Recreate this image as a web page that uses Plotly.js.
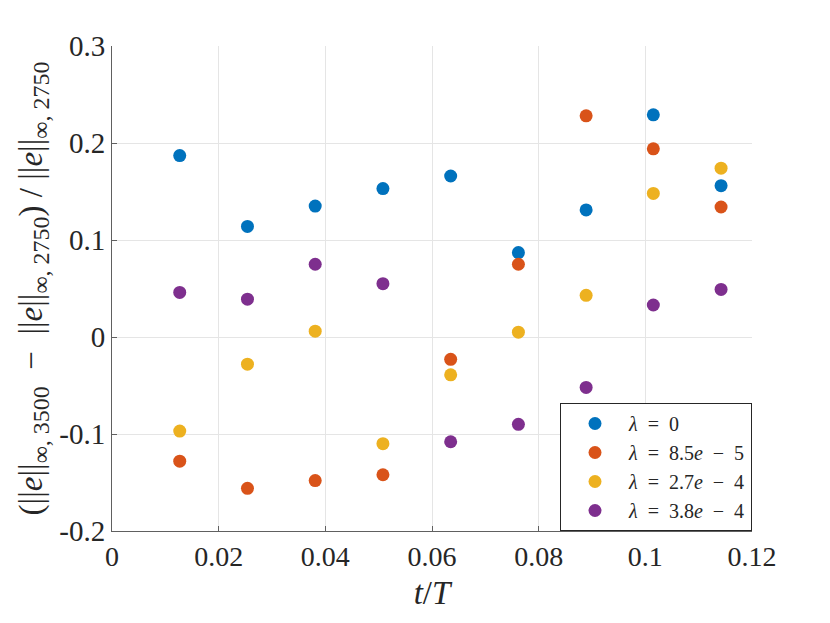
<!DOCTYPE html>
<html><head><meta charset="utf-8">
<script src="https://cdn.plot.ly/plotly-3.0.1.min.js"></script>
<style>body{margin:0;background:#fff}#c{width:830px;height:623px}</style>
</head><body><div id="c"></div>
<script>
const t = [0.0127, 0.0254, 0.0381, 0.0508, 0.0635, 0.0762, 0.0889, 0.1015, 0.1142];
const seriesNames = ["<i>λ</i>  =  0", "<i>λ</i>  =  8.5<i>e</i>  −  5", "<i>λ</i>  =  2.7<i>e</i>  −  4", "<i>λ</i>  =  3.8<i>e</i>  −  4"];
const lam0    = [0.187, 0.114, 0.135, 0.153, 0.166, 0.087, 0.131, 0.229, 0.156];
const lam85e5 = [-0.128, -0.156, -0.148, -0.142, -0.023, 0.075, 0.228, 0.194, 0.134];
const lam27e4 = [-0.097, -0.028, 0.006, -0.110, -0.039, 0.005, 0.043, 0.148, 0.174];
const lam38e4 = [0.046, 0.039, 0.075, 0.055, -0.108, -0.090, -0.052, 0.033, 0.049];
const colors = ["#0072BD", "#D95319", "#EDB120", "#7E2F8E"];
const xTickVals = [0, 0.02, 0.04, 0.06, 0.08, 0.1, 0.12];
const xTickText = ["0", "0.02", "0.04", "0.06", "0.08", "0.1", "0.12"];
const yTickVals = [-0.2, -0.1, 0, 0.1, 0.2, 0.3];
const yTickText = ["-0.2", "-0.1", "0", "0.1", "0.2", "0.3"];

const ys = [lam0, lam85e5, lam27e4, lam38e4];
const data = ys.map((y, i) => ({
  x: t, y: y, type: "scatter", mode: "markers", name: seriesNames[i],
  marker: {color: colors[i], size: 13}
}));
const font = "'Liberation Serif', 'DejaVu Serif', serif";
const sb = s => "<sub><span style='font-size:24px'>" + s + "</span></sub>";
const yTitle = "(||<i>e</i>||" + sb("∞, 3500") + "  −  ||<i>e</i>||" + sb("∞, 2750") + ") / ||<i>e</i>||" + sb("∞, 2750");
const layout = {
  width: 830, height: 623,
  margin: {l: 112, r: 78, t: 46, b: 92},
  paper_bgcolor: "#fff", plot_bgcolor: "#fff",
  font: {family: font, color: "#262626", size: 24},
  showlegend: true,
  legend: {x: 1, xanchor: "right", y: 0, yanchor: "bottom",
           bordercolor: "#262626", borderwidth: 1, bgcolor: "#fff",
           font: {family: font, size: 20, color: "#262626"},
           itemwidth: 58, tracegroupgap: 0},
  xaxis: {range: [0, 0.12], tickvals: xTickVals, ticktext: xTickText,
          showgrid: true, gridcolor: "#e5e5e5", zeroline: false,
          showline: true, linecolor: "#606060", linewidth: 1,
          ticks: "inside", ticklen: 5, tickcolor: "#606060",
          tickfont: {size: 28, family: font},
          title: {text: "<i>t</i>/<i>T</i>", font: {size: 33, family: font}, standoff: 10}},
  yaxis: {range: [-0.2, 0.3], tickvals: yTickVals, ticktext: yTickText,
          showgrid: true, gridcolor: "#e5e5e5", zeroline: false,
          showline: true, linecolor: "#606060", linewidth: 1,
          ticks: "inside", ticklen: 5, tickcolor: "#606060",
          tickfont: {size: 29, family: font},
          title: {text: yTitle, font: {size: 33, family: font}, standoff: 6}}
};
Plotly.newPlot("c", data, layout, {displayModeBar: false, staticPlot: true});
</script>
</body></html>
